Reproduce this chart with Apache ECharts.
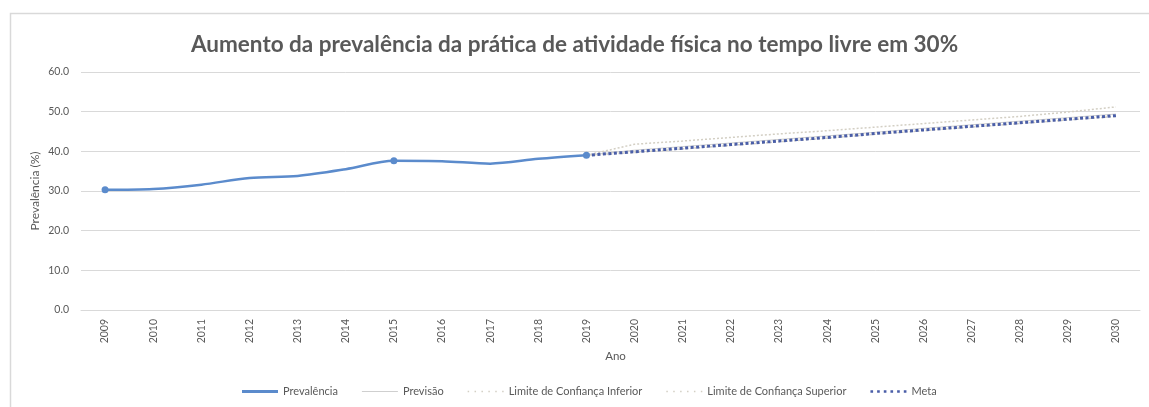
<!DOCTYPE html>
<html>
<head>
<meta charset="utf-8">
<script src="https://cdn.jsdelivr.net/npm/echarts@6/dist/echarts.min.js"></script>
<style>
  html, body { margin: 0; padding: 0; background: #fff; }
  #chart { width: 1149px; height: 407px; }
</style>
</head>
<body>
<div id="chart"></div>
<script>
// Years on the category axis
const anos = ['2009','2010','2011','2012','2013','2014','2015','2016','2017','2018','2019',
              '2020','2021','2022','2023','2024','2025','2026','2027','2028','2029','2030'];

// Observed prevalence (%)
const prevalencia = [30.3, 30.5, 31.6, 33.3, 33.8, 35.5, 37.6, 37.5, 36.9, 38.1, 39.0,
                     null, null, null, null, null, null, null, null, null, null, null];

// Forecast and its confidence limits (%)
const previsao = [null, null, null, null, null, null, null, null, null, null, 39.0,
                  40.3, 41.2, 42.1, 43.0, 43.9, 44.8, 45.8, 46.7, 47.6, 48.5, 49.4];
const limiteInferior = [null, null, null, null, null, null, null, null, null, null, 39.0,
                        39.7, 40.6, 41.5, 42.4, 43.3, 44.3, 45.2, 46.1, 47.0, 47.9, 48.8];
const limiteSuperior = [null, null, null, null, null, null, null, null, null, null, 39.0,
                        41.8, 42.6, 43.5, 44.4, 45.2, 46.1, 47.0, 47.9, 48.8, 49.9, 51.2];

// Target trajectory (%)
const meta = [null, null, null, null, null, null, null, null, null, null, 39.0,
              39.9, 40.8, 41.7, 42.6, 43.5, 44.5, 45.4, 46.3, 47.2, 48.1, 49.0];

// Years whose prevalence point carries a marker
const anosMarcados = ['2009', '2015', '2019'];

const yTicks = { min: 0, max: 60, interval: 10 };

const chart = echarts.init(document.getElementById('chart'), null, { renderer: 'canvas' });

const textColor = '#595959';
const fontFamily = 'Lato, "Liberation Sans", sans-serif';

const prevData = prevalencia.map((v, i) => {
  if (v === null) return null;
  const marked = anosMarcados.includes(anos[i]);
  return { value: v, symbol: marked ? 'circle' : 'none', symbolSize: marked ? 7 : 0 };
});

// Legend glyphs: a row of small squares for the dotted series
function dotsPath(count, size, step) {
  let p = 'path://';
  for (let i = 0; i < count; i++) {
    const x = i * step;
    p += `M${x},0 L${x + size},0 L${x + size},${size} L${x},${size} Z `;
  }
  return p.trim();
}

chart.setOption({
  animation: false,
  backgroundColor: '#ffffff',
  textStyle: { fontFamily: fontFamily, color: textColor },
  graphic: [{
    type: 'rect',
    shape: { x: 10.5, y: 13.5, width: 1160, height: 420 },
    style: { fill: 'none', stroke: '#d9d9d9', lineWidth: 1.5 },
    silent: true,
    z: -10
  }],
  title: {
    text: 'Aumento da prevalência da prática de atividade física no tempo livre em 30%',
    left: 'center',
    top: 28,
    textStyle: { fontFamily: fontFamily, fontSize: 22.5, fontWeight: 'bold', color: textColor }
  },
  grid: { left: 81, right: 9, top: 72, bottom: 97 },
  xAxis: {
    type: 'category',
    data: anos,
    boundaryGap: true,
    name: 'Ano',
    nameLocation: 'middle',
    nameGap: 40,
    nameMoveOverlap: false,
    nameTextStyle: { fontSize: 11.5, color: textColor, padding: [0, 0, 0, 10] },
    axisLine: { show: true, lineStyle: { color: '#d9d9d9' } },
    axisTick: { show: false },
    axisLabel: { rotate: 90, fontSize: 10.5, color: textColor, margin: 9, interval: 0 },
    splitLine: { show: false }
  },
  yAxis: {
    type: 'value',
    min: yTicks.min,
    max: yTicks.max,
    interval: yTicks.interval,
    name: 'Prevalência (%)',
    nameLocation: 'middle',
    nameRotate: 90,
    nameGap: 40,
    nameMoveOverlap: false,
    nameTextStyle: { fontSize: 12, color: textColor },
    axisLine: { show: false },
    axisTick: { show: false },
    axisLabel: { fontSize: 10.5, color: textColor, margin: 12, formatter: v => v.toFixed(1) },
    splitLine: { lineStyle: { color: '#d9d9d9', width: 1 } }
  },
  legend: {
    bottom: 5,
    left: 237,
    itemWidth: 36,
    itemHeight: 8,
    itemGap: 24,
    textStyle: { fontSize: 11, color: textColor },
    data: [
      { name: 'Prevalência', icon: 'path://M0,0 L36,0 L36,3 L0,3 Z' },
      { name: 'Previsão', icon: 'path://M0,0 L35,0 L35,1 L0,1 Z' },
      { name: 'Limite de Confiança Inferior', icon: dotsPath(6, 1.3, 6) },
      { name: 'Limite de Confiança Superior', icon: dotsPath(6, 1.3, 6) },
      { name: 'Meta', icon: dotsPath(6, 2.5, 6.3) }
    ]
  },
  series: [
    {
      name: 'Limite de Confiança Inferior',
      type: 'line',
      data: limiteInferior,
      symbol: 'none',
      lineStyle: { color: '#d3cfc4', width: 1.5, type: [2, 2] },
      itemStyle: { color: '#d3cfc4' },
      z: 1
    },
    {
      name: 'Limite de Confiança Superior',
      type: 'line',
      data: limiteSuperior,
      symbol: 'none',
      lineStyle: { color: '#d3cfc4', width: 1.5, type: [2, 2] },
      itemStyle: { color: '#d3cfc4' },
      z: 1
    },
    {
      name: 'Previsão',
      type: 'line',
      data: previsao,
      symbol: 'none',
      lineStyle: { color: '#cfcfcf', width: 1 },
      itemStyle: { color: '#cfcfcf' },
      z: 2
    },
    {
      name: 'Meta',
      type: 'line',
      data: meta,
      symbol: 'none',
      lineStyle: { color: '#4a5ea8', width: 3, type: [3, 2.5] },
      itemStyle: { color: '#4a5ea8' },
      z: 3
    },
    {
      name: 'Prevalência',
      type: 'line',
      data: prevData,
      smooth: 0.3,
      lineStyle: { color: '#5b8bcc', width: 2.5 },
      itemStyle: { color: '#5b8bcc' },
      z: 4
    }
  ]
});
</script>
</body>
</html>
